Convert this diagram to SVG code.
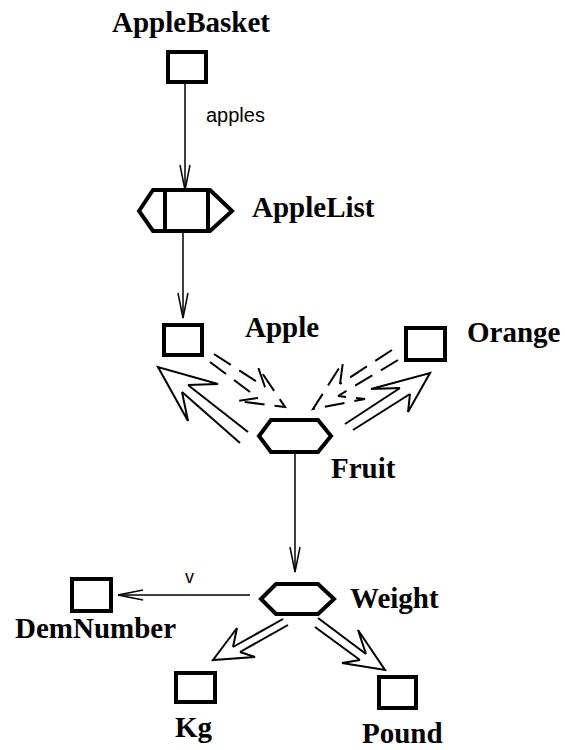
<svg xmlns="http://www.w3.org/2000/svg" width="565" height="750" viewBox="0 0 565 750">
<style>
.box{fill:none;stroke:#000;stroke-width:4}
.lbl{font-family:"Liberation Serif",serif;font-weight:bold;font-size:29px;fill:#000}
.sm{font-family:"Liberation Sans",sans-serif;font-size:20px;fill:#000}
.ln{fill:none;stroke:#000;stroke-width:1.5}
.hl{fill:none;stroke:#000;stroke-width:2;stroke-linejoin:miter}
.dl{fill:none;stroke:#000;stroke-width:2;stroke-dasharray:20 10}
</style>
<rect width="565" height="750" fill="#fff"/>
<g id="AppleBasket"><rect class="box" x="168" y="52" width="38" height="30"/><text class="lbl" x="112" y="32">AppleBasket</text></g>
<g id="AppleList"><polygon class="box" points="139,211 153,190 210,190 232,211 210,231 153,231"/><line class="box" x1="165" y1="190" x2="165" y2="231"/><line class="box" x1="208" y1="190" x2="208" y2="231"/><text class="lbl" x="252" y="217">AppleList</text></g>
<g id="Apple"><rect class="box" x="164" y="325" width="38" height="30"/><text class="lbl" x="245" y="337">Apple</text></g>
<g id="Orange"><rect class="box" x="406" y="328" width="39" height="32"/><text class="lbl" x="467" y="342">Orange</text></g>
<g id="Fruit"><polygon class="box" points="259,436 271,420 318,420 331,436 318,452 271,452"/><text class="lbl" x="331" y="478">Fruit</text></g>
<g id="Weight"><polygon class="box" points="261,599 276,584 318,584 334,599 318,614 276,614"/><text class="lbl" x="350" y="608">Weight</text></g>
<g id="DemNumber"><rect class="box" x="72" y="579" width="39" height="32"/><text class="lbl" x="15" y="638">DemNumber</text></g>
<g id="Kg"><rect class="box" x="176" y="673" width="39" height="29"/><text class="lbl" x="175" y="737">Kg</text></g>
<g id="Pound"><rect class="box" x="379" y="677" width="37" height="31"/><text class="lbl" x="362" y="743">Pound</text></g>
<g id="connectors">
<line class="ln" x1="185" y1="84" x2="185" y2="190"/><polyline class="ln" points="180,165 185,190 190,165"/>
<text class="sm" x="206" y="122">apples</text>
<line class="ln" x1="183" y1="232" x2="183" y2="318"/><polyline class="ln" points="178,293 183,318 188,293"/>
<line class="ln" x1="295" y1="454" x2="295" y2="572"/><polyline class="ln" points="290,547 295,572 300,547"/>
<line class="ln" x1="250" y1="595" x2="118" y2="595"/><polyline class="ln" points="143,590 118,595 143,600"/>
<text class="sm" x="185" y="583" style="font-size:18px">v</text>
<line class="hl" x1="248" y1="432" x2="188" y2="385"/><line class="hl" x1="240" y1="443" x2="182" y2="392"/>
<polyline class="hl" points="188,385 218,384 158,367 188,421 182,392"/>
<line class="hl" x1="345" y1="424" x2="400" y2="388"/><line class="hl" x1="353" y1="430" x2="410" y2="394"/>
<polyline class="hl" points="400,388 371,389 430,373 408,412 410,394"/>
<line class="hl" x1="283" y1="619" x2="233" y2="647"/><line class="hl" x1="288" y1="625" x2="240" y2="652"/>
<polyline class="hl" points="233,647 237,628 213,660 255,657 240,652"/>
<line class="hl" x1="318" y1="618" x2="366" y2="654"/><line class="hl" x1="315" y1="627" x2="360" y2="660"/>
<polyline class="hl" points="366,654 358,630 385,670 342,663 360,660"/>
<line class="dl" x1="214" y1="354" x2="265" y2="387"/><line class="dl" x1="210" y1="362" x2="258" y2="398"/>
<polyline class="dl" points="265,387 258,367 285,407 237,401 258,398"/>
<line class="dl" x1="392" y1="350" x2="340" y2="384"/><line class="dl" x1="398" y1="360" x2="338" y2="396"/>
<polyline class="dl" points="340,384 343,362 313,409 365,399 338,396"/>
</g>
</svg>
